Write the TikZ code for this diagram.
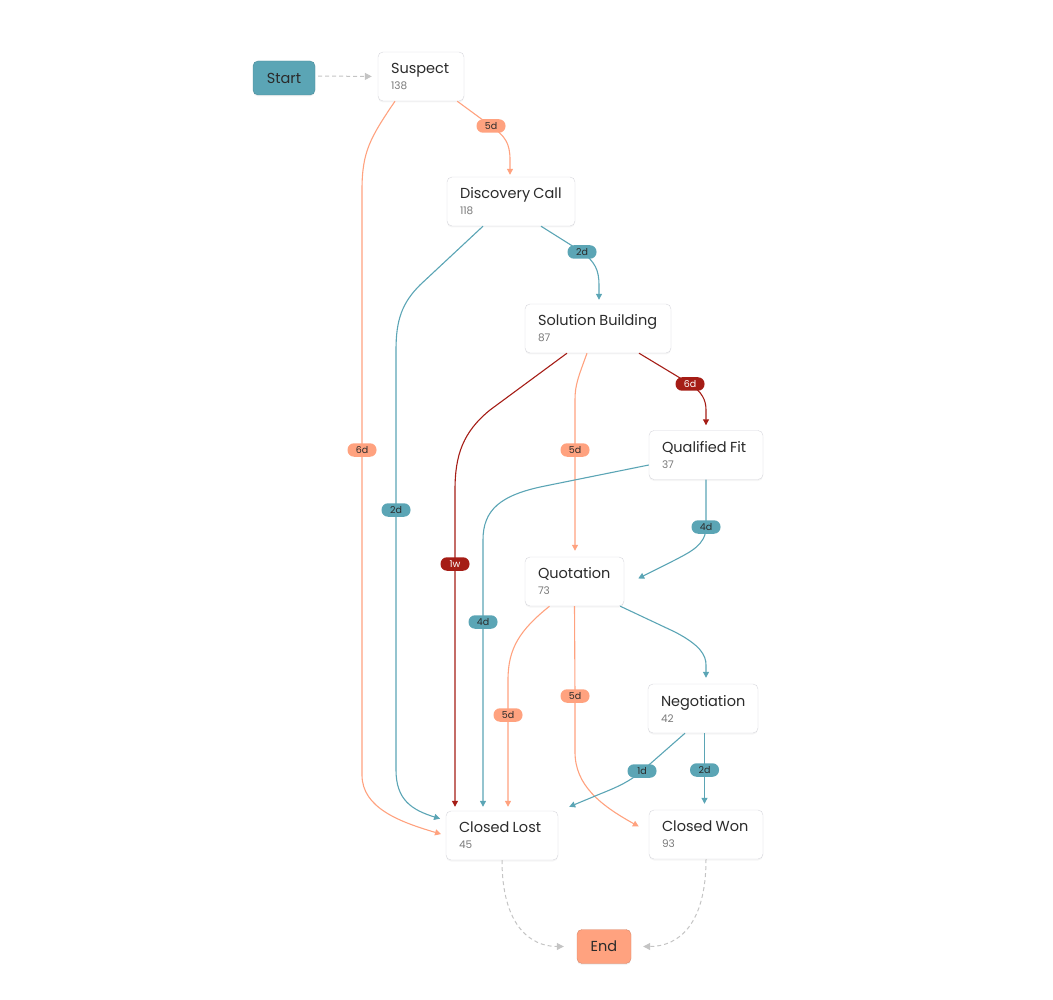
\documentclass[tikz,border=0pt]{standalone}
\usepackage{fontspec}
\setmainfont{Poppins}
\usetikzlibrary{arrows.meta,shadows}
\definecolor{tealflow}{HTML}{5BA5B5}
\definecolor{salmonflow}{HTML}{FFA27F}
\definecolor{redflow}{HTML}{A51D16}
\definecolor{textdark}{HTML}{2B2B2B}
\definecolor{countgray}{HTML}{7A7A7A}
\definecolor{boxline}{HTML}{D6D6DC}
\definecolor{dashgray}{HTML}{C4C4C4}

\newcommand{\stagelabel}[2]{{\fontsize{14.5}{15}\selectfont #1}\\[4pt]{\fontsize{10.5}{12}\selectfont\color{countgray}#2}}

\begin{document}
\begin{tikzpicture}[x=1pt,y=-1pt,
		stage/.style={draw=boxline, fill=white, rounded corners=5pt, minimum height=49pt, align=left, inner xsep=13pt, text=textdark,
			drop shadow={opacity=0.08, shadow xshift=0pt, shadow yshift=-1.5pt}},
		endpoint/.style={draw=#1!85!black, fill=#1, rounded corners=5pt, minimum height=34pt, text=textdark, font=\fontsize{14.5}{15}\selectfont,
			drop shadow={opacity=0.1, shadow xshift=0pt, shadow yshift=-1.5pt}},
		pill/.style={rounded corners=6.5pt, minimum width=29pt, minimum height=13.5pt, inner sep=0pt, font=\fontsize{9.5}{10}\selectfont},
		tealpill/.style={pill, fill=tealflow, text=textdark},
		salmonpill/.style={pill, fill=salmonflow, text=textdark},
		redpill/.style={pill, fill=redflow, text=white},
		flow/.style={draw=#1, line width=1.1pt, -{Triangle[length=6pt,width=6pt]}, shorten >=4pt},
		flowdash/.style={draw=dashgray, line width=1pt, dash pattern=on 4pt off 3pt, -{Triangle[length=7pt,width=7pt]}}
	]
	\useasboundingbox (0,0) rectangle (1053,1000);

	% stages
	\node[endpoint=tealflow, minimum width=62pt] (start) at (284,78) {Start};
	\node[stage, text width=60pt] (suspect) at (421,76.5) {\stagelabel{Suspect}{138}};
	\node[stage, text width=102pt] (discovery) at (511,201.5) {\stagelabel{Discovery Call}{118}};
	\node[stage, text width=120pt] (solution) at (598,328.5) {\stagelabel{Solution Building}{87}};
	\node[stage, text width=88pt] (qualified) at (706,455) {\stagelabel{Qualified Fit}{37}};
	\node[stage, text width=73pt] (quotation) at (574.5,581.5) {\stagelabel{Quotation}{73}};
	\node[stage, text width=84pt] (negotiation) at (703,708.5) {\stagelabel{Negotiation}{42}};
	\node[stage, text width=86pt] (closedlost) at (502,835.5) {\stagelabel{Closed Lost}{45}};
	\node[stage, text width=88pt] (closedwon) at (706,834.5) {\stagelabel{Closed Won}{93}};
	\node[endpoint=salmonflow, minimum width=54pt] (endnode) at (604,946.5) {End};

	% entry and exit
	\draw[flowdash, shorten <=3pt, shorten >=6pt] ([yshift=2pt]start.east) -- (suspect.west);
	\draw[flowdash, shorten >=13pt] (closedlost.south) .. controls (502,925) and (530,946.5) .. (endnode.west);
	\draw[flowdash, shorten >=12pt] (closedwon.south) .. controls (706,925) and (678,946.5) .. (endnode.east);

	% Suspect
	\draw[flow=salmonflow, shorten >=2pt] ([xshift=-7pt]suspect.south east) -- (491,126) node[salmonpill]{5d}
		.. controls (505,136) and (510,143) .. (510,160) -- ([xshift=-1pt]discovery.north);
	\draw[flow=salmonflow, shorten >=5pt] ([xshift=-26pt]suspect.south) .. controls (370,138) and (362,152) .. (362,190)
		-- (362,450) node[salmonpill]{6d} -- (362,775) .. controls (362,808) and (400,822) .. (closedlost.west);

	% Discovery Call
	\draw[flow=tealflow, shorten >=6pt] ([xshift=-28pt]discovery.south) -- (420,285) .. controls (402,303) and (396,320) .. (396,350)
		-- (396,510) node[tealpill]{2d} -- (396,770) .. controls (396,800) and (412,810) .. ([yshift=15pt]closedlost.west);
	\draw[flow=tealflow] ([xshift=30pt]discovery.south) -- (582,252) node[tealpill]{2d}
		.. controls (595,262) and (599,270) .. (599,285) -- ([xshift=1pt]solution.north);

	% Solution Building
	\draw[flow=redflow] ([xshift=-31pt]solution.south) -- (490,410) .. controls (463,432) and (455,455) .. (455,490)
		-- (455,564) node[redpill]{1w} -- ([xshift=-47pt]closedlost.north);
	\draw[flow=salmonflow, shorten >=6pt] ([xshift=-11pt]solution.south) .. controls (578,378) and (575,385) .. (575,400)
		-- (575,450) node[salmonpill]{5d} -- ([xshift=0.5pt]quotation.north);
	\draw[flow=redflow, shorten >=5pt] ([xshift=41pt]solution.south) -- (690,384) node[redpill]{6d}
		.. controls (702,392) and (706,400) .. (706,410) -- (qualified.north);

	% Qualified Fit
	\draw[flow=tealflow] ([yshift=-10pt]qualified.west) -- (545,486) .. controls (500,495) and (483,510) .. (483,540)
		-- (483,622) node[tealpill]{4d} -- ([xshift=-19pt]closedlost.north);
	\draw[flow=tealflow, shorten >=0pt] (qualified.south) -- (706,527) node[tealpill]{4d}
		.. controls (706,545) and (690,552) .. (675,560) -- ([xshift=14pt,yshift=3pt]quotation.east);

	% Quotation
	\draw[flow=salmonflow] ([xshift=-25pt]quotation.south) .. controls (520,630) and (508,648) .. (508,680)
		-- (508,715) node[salmonpill]{5d} -- ([xshift=6pt]closedlost.north);
	\draw[flow=salmonflow, shorten >=0pt] (quotation.south) -- (575,696) node[salmonpill]{5d} -- (575,752)
		.. controls (575,785) and (600,805) .. ([xshift=-10pt,yshift=8pt]closedwon.west);
	\draw[flow=tealflow, shorten >=6pt] ([xshift=-4pt]quotation.south east) -- (675,632) .. controls (700,645) and (706,655) .. (706,665)
		-- ([xshift=3pt]negotiation.north);

	% Negotiation
	\draw[flow=tealflow, shorten >=0pt] ([xshift=-18pt]negotiation.south) -- (642,771) node[tealpill]{1d}
		.. controls (630,781) and (620,786) .. (600,794) -- ([xshift=11pt,yshift=4pt]closedlost.north east);
	\draw[flow=tealflow, shorten >=6pt] ([xshift=1.5pt]negotiation.south) -- (704.5,770) node[tealpill]{2d} -- ([xshift=-1.5pt]closedwon.north);
\end{tikzpicture}
\end{document}
